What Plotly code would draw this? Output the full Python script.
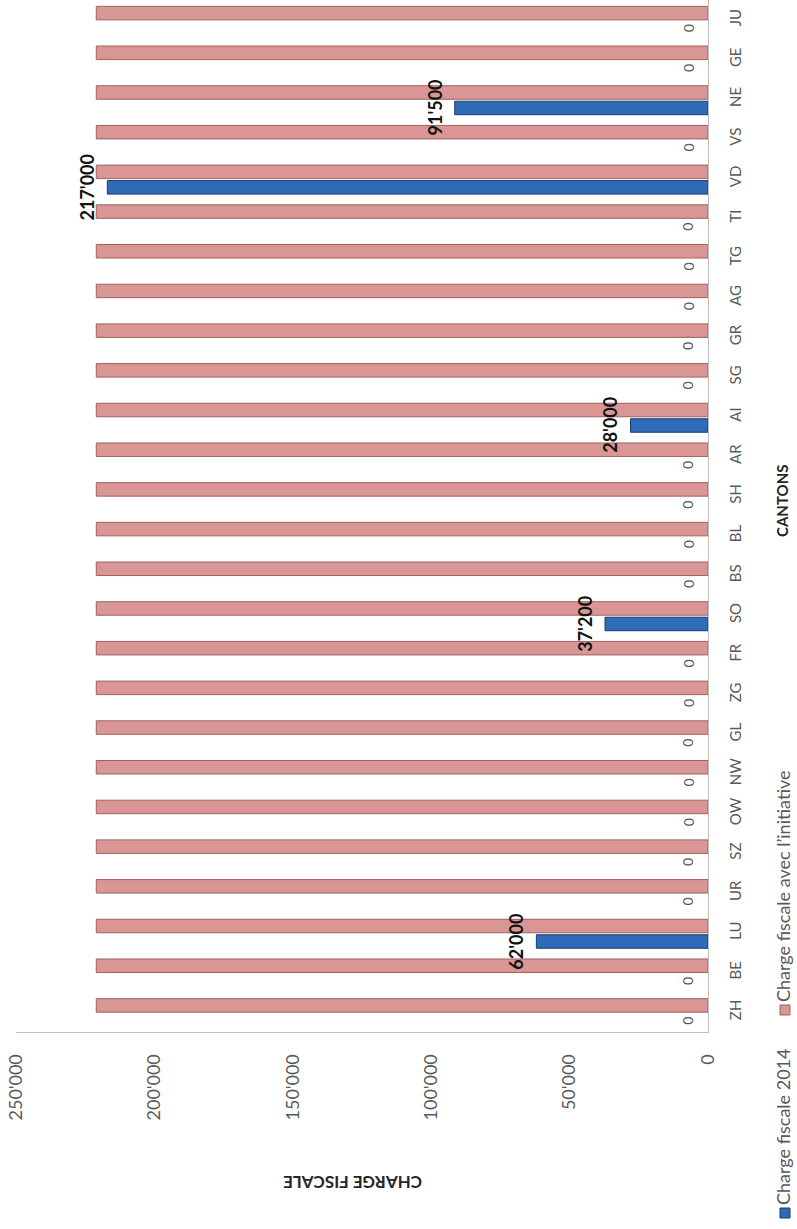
import plotly.graph_objects as go

cantons = ["ZH", "BE", "LU", "UR", "SZ", "OW", "NW", "GL", "ZG", "FR", "SO", "BS", "BL",
           "SH", "AR", "AI", "SG", "GR", "AG", "TG", "TI", "VD", "VS", "NE", "GE", "JU"]
charge_2014 = [0, 0, 62000, 0, 0, 0, 0, 0, 0, 0, 37200, 0, 0,
               0, 0, 28000, 0, 0, 0, 0, 0, 217000, 0, 91500, 0, 0]
charge_initiative = [221000, 221000, 221000, 221000, 221000, 221000, 221000, 221000, 221000,
                     221000, 221000, 221000, 221000, 221000, 221000, 221000, 221000, 221000,
                     221000, 221000, 221000, 221000, 221000, 221000, 221000, 221000]
series_names = ["Charge fiscale 2014", "Charge fiscale avec l\u2019initiative"]
value_ticks = [0, 50000, 100000, 150000, 200000, 250000]
x_title = "CHARGE FISCALE"
y_title = "CANTONS"

W, H = 797, 1229
L, R, T, B = 16, 89, 0, 197
PW, PH = W - L - R, H - T - B
FONT = "Lato, 'Open Sans', sans-serif"

def px(xp):
    return (xp - L) / PW

def py(yp):
    return (T + PH - yp) / PH

def fmt(v):
    return f"{v:,}".replace(",", "'")

fig = go.Figure()
fig.add_trace(go.Bar(
    y=cantons, x=charge_2014, orientation="h", name=series_names[0],
    marker=dict(color="#2F6BB8",
                line=dict(color="#1A3C6C", width=[1 if v else 0 for v in charge_2014])),
    offset=-0.39, width=0.34, showlegend=False,
))
fig.add_trace(go.Bar(
    y=cantons, x=charge_initiative, orientation="h", name=series_names[1],
    marker=dict(color="#D99694", line=dict(color="#9E625F", width=1)),
    offset=0.0, width=0.34, showlegend=False,
))

annotations = []
for c, v in zip(cantons, charge_2014):
    if v == 0:
        font = dict(family=FONT, size=14, color="#595959")
    else:
        font = dict(family=FONT, size=18, color="#111111", weight="bold")
    annotations.append(dict(
        x=v, y=c, xref="x", yref="y", text=fmt(v), showarrow=False,
        textangle=-90, xanchor="center", yanchor="middle",
        xshift=-20, yshift=-8.5, font=font, borderpad=0,
    ))

# axis titles
annotations.append(dict(
    x=px(353), y=py(1183), xref="paper", yref="paper", text=x_title, showarrow=False,
    textangle=180, xanchor="center", yanchor="middle",
    font=dict(family=FONT, size=17, color="#262626", weight="bold"),
))
annotations.append(dict(
    x=px(782), y=py(501), xref="paper", yref="paper", text=y_title, showarrow=False,
    textangle=-90, xanchor="center", yanchor="middle",
    font=dict(family=FONT, size=15, color="#262626", weight="bold"),
))

# rotated legend
legend_items = [
    (series_names[0], 1213, "#2F6BB8", "#1A3C6C"),
    (series_names[1], 1010, "#D99694", "#9E625F"),
]
shapes = []
for name, sq_y, fill, line in legend_items:
    shapes.append(dict(
        type="rect", xref="paper", yref="paper", xsizemode="pixel", ysizemode="pixel",
        xanchor=px(785), yanchor=py(sq_y), x0=-5, x1=5, y0=-5, y1=5,
        fillcolor=fill, line=dict(color=line, width=1),
    ))
    annotations.append(dict(
        x=px(783), y=py(sq_y - 7), xref="paper", yref="paper", text=name, showarrow=False,
        textangle=-90, xanchor="center", yanchor="bottom", borderpad=0,
        font=dict(family=FONT, size=18, color="#595959"),
    ))

fig.update_layout(
    width=W, height=H,
    margin=dict(l=L, r=R, t=T, b=B, pad=0),
    paper_bgcolor="white", plot_bgcolor="white",
    separators=".'",
    barmode="group",
    annotations=annotations,
    shapes=shapes,
    showlegend=False,
    font=dict(family=FONT),
)
fig.update_xaxes(
    range=[250000, 0], tickvals=value_ticks, ticktext=[fmt(v) for v in value_ticks],
    tickangle=-90, showgrid=False, zeroline=False,
    showline=True, linecolor="#BFBFBF", linewidth=1,
    ticks="", ticklabelstandoff=14,
    tickfont=dict(family=FONT, size=18, color="#595959"),
)
fig.update_yaxes(
    range=[-0.5, 25.5], side="right", tickangle=-90, showgrid=False, zeroline=False,
    showline=True, linecolor="#BFBFBF", linewidth=1, mirror=False,
    ticks="", ticklabelstandoff=14,
    tickfont=dict(family=FONT, size=15, color="#595959"),
)

fig.write_html("out.html")
